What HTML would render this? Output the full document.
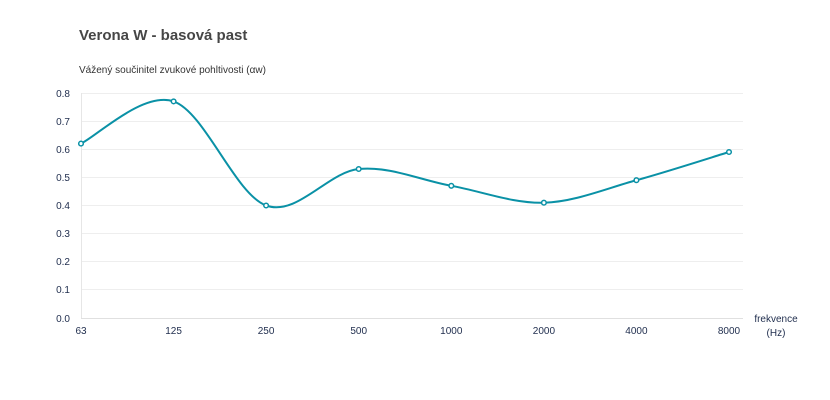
<!DOCTYPE html>
<html><head><meta charset="utf-8"><style>
body{margin:0;background:#fff;}
svg{display:block;font-family:"Liberation Sans",sans-serif;}
</style></head><body>
<svg width="830" height="400" viewBox="0 0 830 400">
<text x="79" y="40" font-size="15" font-weight="bold" fill="#464646">Verona W - basová past</text>
<text x="79" y="73" font-size="10" fill="#333">Vážený součinitel zvukové pohltivosti (αw)</text>
<g stroke="#eeeeee" stroke-width="1">
<line x1="81" x2="743" y1="93.5" y2="93.5"/>
<line x1="81" x2="743" y1="121.5" y2="121.5"/>
<line x1="81" x2="743" y1="149.5" y2="149.5"/>
<line x1="81" x2="743" y1="177.5" y2="177.5"/>
<line x1="81" x2="743" y1="205.5" y2="205.5"/>
<line x1="81" x2="743" y1="233.5" y2="233.5"/>
<line x1="81" x2="743" y1="261.5" y2="261.5"/>
<line x1="81" x2="743" y1="289.5" y2="289.5"/>
<line x1="81" x2="743" y1="318.5" y2="318.5" stroke="#e0e0e0"/>
<line x1="81.5" x2="81.5" y1="93" y2="318" stroke="#e6e6e6"/>
</g>
<g font-size="10" fill="#1f2d4d" text-anchor="end">
<text x="70" y="97">0.8</text><text x="70" y="125">0.7</text><text x="70" y="153">0.6</text>
<text x="70" y="181">0.5</text><text x="70" y="209">0.4</text><text x="70" y="237">0.3</text>
<text x="70" y="265">0.2</text><text x="70" y="293">0.1</text><text x="70" y="322">0.0</text>
</g>
<g font-size="10" fill="#1f2d4d" text-anchor="middle">
<text x="81" y="334">63</text><text x="173.6" y="334">125</text><text x="266.1" y="334">250</text>
<text x="358.7" y="334">500</text><text x="451.3" y="334">1000</text><text x="543.9" y="334">2000</text>
<text x="636.4" y="334">4000</text><text x="729" y="334">8000</text>
<text x="776" y="322">frekvence</text><text x="776" y="336">(Hz)</text>
</g>
<path fill="none" stroke="#0a91a6" stroke-width="2" d="M81,143.6 C96.4,136.6 142.8,91.1 173.6,101.4 C204.5,111.7 235.2,194.2 266.1,205.5 C297,216.8 327.8,172.1 358.7,169 C389.6,165.9 420.4,180.2 451.3,185.8 C482.2,191.4 513,203.6 543.9,202.7 C574.8,201.8 605.5,188.7 636.4,180.2 C667.3,171.7 713.6,156.7 729,152"/>
<g fill="#fff" stroke="#0a91a6" stroke-width="1.5">
<circle cx="81" cy="143.6" r="2.3"/><circle cx="173.6" cy="101.4" r="2.3"/><circle cx="266.1" cy="205.5" r="2.3"/>
<circle cx="358.7" cy="169" r="2.3"/><circle cx="451.3" cy="185.8" r="2.3"/><circle cx="543.9" cy="202.7" r="2.3"/>
<circle cx="636.4" cy="180.2" r="2.3"/><circle cx="729" cy="152" r="2.3"/>
</g>
</svg>
</body></html>
